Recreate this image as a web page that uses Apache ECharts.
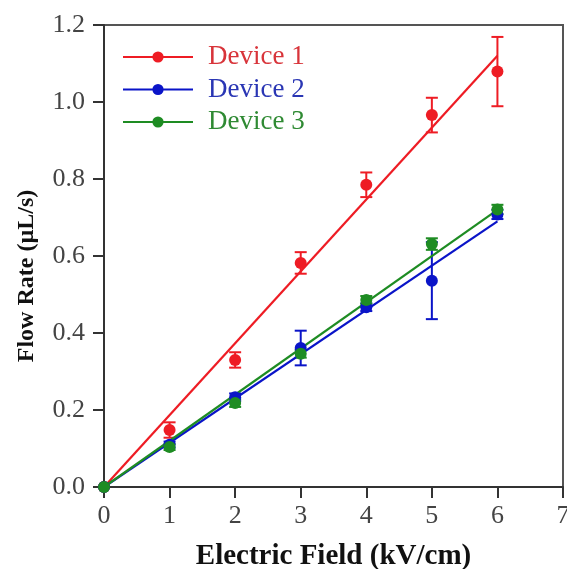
<!DOCTYPE html>
<html>
<head>
<meta charset="utf-8">
<script src="https://cdn.jsdelivr.net/npm/echarts@6/dist/echarts.min.js"></script>
<style>
  html, body { margin: 0; padding: 0; background: #fff; }
  #chart { width: 567px; height: 569px; }
</style>
</head>
<body>
<div id="chart"></div>
<script>
// Electric field (kV/cm)
const fieldValues = [0, 1, 2, 3, 4, 5, 6]

// Measured flow rates (uL/s) and error bar half-widths
const device1 = [0, 0.148, 0.330, 0.582, 0.785, 0.966, 1.079]
const device1Err = [0, 0.02, 0.02, 0.028, 0.032, 0.045, 0.09]
const device2 = [0, 0.110, 0.233, 0.361, 0.467, 0.536, 0.708]
const device2Err = [0, 0.008, 0.01, 0.045, 0.01, 0.1, 0.012]
const device3 = [0, 0.104, 0.218, 0.346, 0.486, 0.631, 0.721]
const device3Err = [0, 0.008, 0.01, 0.01, 0.01, 0.015, 0.012]

// Linear fit lines, read at the ends of the fitted range
const fitField = [0, 6]
const fit1 = [0, 1.12]
const fit2 = [0, 0.69]
const fit3 = [0, 0.72]

const yTicks = [0, 0.2, 0.4, 0.6, 0.8, 1.0, 1.2]

const colors = ['#ee1c24', '#0a14c8', '#1e8c23']
const textColors = ['#d8343a', '#2a36b4', '#2f8a33']
const names = ['Device 1', 'Device 2', 'Device 3']
const serif = '"Liberation Serif", "DejaVu Serif", serif'

const pairs = (xs, ys) => xs.map((x, i) => [x, ys[i]])

function errorSeries(name, ys, errs, color) {
  return {
    name,
    type: 'custom',
    z: 2,
    data: fieldValues.map((x, i) => [x, ys[i], errs[i]]),
    renderItem(params, api) {
      const x = api.value(0), y = api.value(1), e = api.value(2)
      if (!e) return null
      const top = api.coord([x, y + e])
      const bot = api.coord([x, y - e])
      const cap = 6
      const style = { stroke: color, lineWidth: 2 }
      return {
        type: 'group',
        children: [
          { type: 'line', shape: { x1: top[0], y1: top[1], x2: bot[0], y2: bot[1] }, style },
          { type: 'line', shape: { x1: top[0] - cap, y1: top[1], x2: top[0] + cap, y2: top[1] }, style },
          { type: 'line', shape: { x1: bot[0] - cap, y1: bot[1], x2: bot[0] + cap, y2: bot[1] }, style },
        ],
      }
    },
  }
}

function pointSeries(name, ys, color) {
  return {
    name,
    type: 'line',
    z: 4,
    data: pairs(fieldValues, ys),
    symbol: 'circle',
    symbolSize: 12,
    itemStyle: { color },
    lineStyle: { color, width: 0, opacity: 0 },
    emphasis: { disabled: true },
  }
}

function fitSeries(name, ys, color) {
  return {
    name,
    type: 'line',
    z: 3,
    data: pairs(fitField, ys),
    symbol: 'none',
    lineStyle: { color, width: 2.2 },
    emphasis: { disabled: true },
  }
}

const devices = [
  [device1, device1Err, fit1],
  [device2, device2Err, fit2],
  [device3, device3Err, fit3],
]

// point series first so the legend icon comes from them
const series = []
devices.forEach(([ys], i) => {
  series.push(pointSeries(names[i], ys, colors[i]))
})
devices.forEach(([ys, errs, fit], i) => {
  series.push(errorSeries(names[i], ys, errs, colors[i]))
  series.push(fitSeries(names[i], fit, colors[i]))
})

const chart = echarts.init(document.getElementById('chart'), null, { renderer: 'canvas' })

chart.setOption({
  animation: false,
  backgroundColor: '#fff',
  grid: {
    left: 104, right: 4, top: 25, bottom: 82,
    outerBoundsMode: 'none',
    show: true, borderColor: '#555', borderWidth: 2,
  },
  legend: {
    left: 122, top: 43,
    padding: 0,
    orient: 'vertical',
    itemWidth: 70,
    itemHeight: 14,
    itemGap: 4.5,
    data: names.map((n, i) => ({
      name: n,
      itemStyle: { color: colors[i] },
      lineStyle: { color: colors[i], width: 2, opacity: 1 },
      textStyle: { color: textColors[i] },
    })),
    textStyle: { fontFamily: serif, fontSize: 27, lineHeight: 28, padding: [0, 0, 0, 10] },
  },
  xAxis: {
    type: 'value',
    min: 0, max: 7, interval: 1,
    name: 'Electric Field (kV/cm)',
    nameLocation: 'middle',
    nameGap: 55,
    nameTextStyle: { fontFamily: serif, fontSize: 29, fontWeight: 'bold', color: '#111' },
    axisLine: { onZero: false, lineStyle: { color: '#333', width: 2 } },
    axisTick: { inside: false, length: 11, lineStyle: { color: '#333', width: 2 } },
    axisLabel: { fontFamily: serif, fontSize: 26, color: '#444', margin: 16 },
    splitLine: { show: false },
  },
  yAxis: {
    type: 'value',
    min: yTicks[0], max: yTicks[yTicks.length - 1], interval: 0.2,
    name: 'Flow Rate (\u00b5L/s)',
    nameLocation: 'middle',
    nameGap: 65,
    nameTextStyle: { fontFamily: serif, fontSize: 24, fontWeight: 'bold', color: '#111', padding: [0, 40, 0, 0] },
    axisLine: { onZero: false, lineStyle: { color: '#333', width: 2 } },
    axisTick: { inside: false, length: 11, lineStyle: { color: '#333', width: 2 } },
    axisLabel: { fontFamily: serif, fontSize: 26, color: '#444', margin: 19, formatter: v => v.toFixed(1) },
    splitLine: { show: false },
  },
  series,
})
</script>
</body>
</html>
